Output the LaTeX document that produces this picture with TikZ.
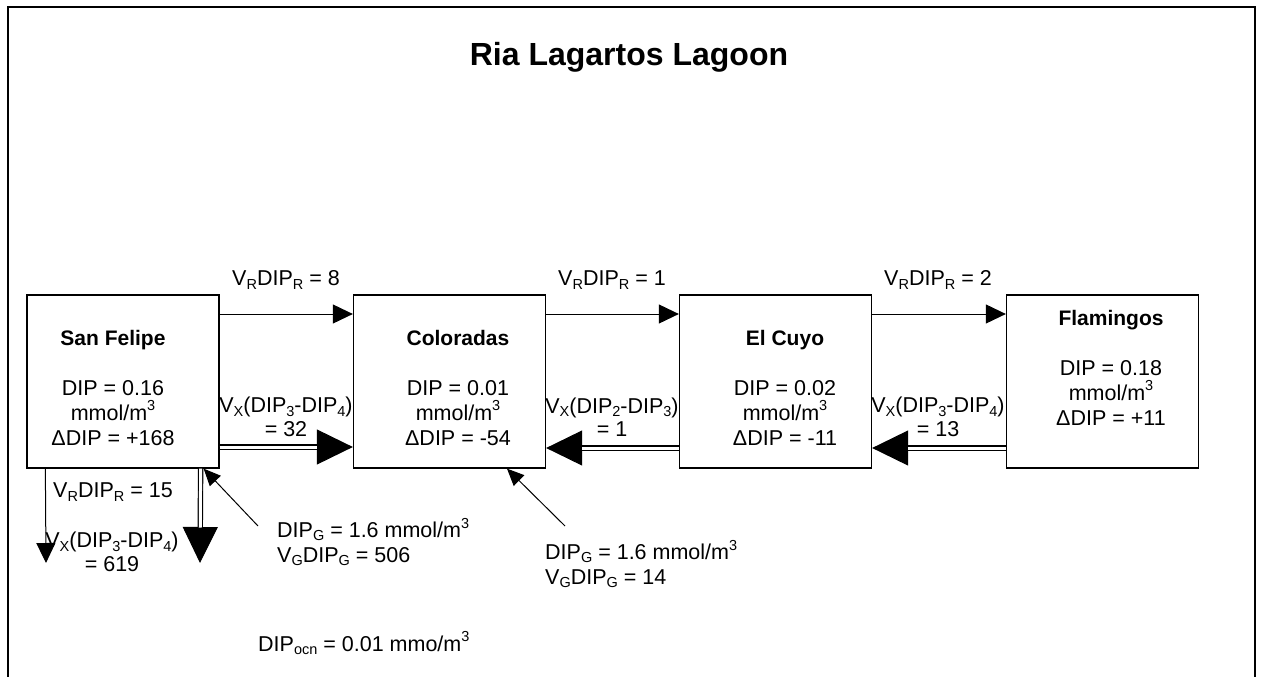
\documentclass[tikz,border=0pt]{standalone}
\usepackage{fontspec}
\setmainfont{Liberation Sans}
\usetikzlibrary{arrows.meta}

% lowered / raised indices in a smaller size
\newcommand{\lo}[1]{\raisebox{-0.15em}{\fontsize{14.5}{14.5}\selectfont #1}}
\newcommand{\hi}[1]{\raisebox{0.45em}{\fontsize{14.5}{14.5}\selectfont #1}}

\tikzset{
  basinbox/.style={draw, line width=1.3pt, minimum width=192pt, minimum height=173pt, inner sep=0pt},
  basintext/.style={font=\fontsize{21.5}{25}\selectfont, align=center, inner sep=0pt},
  flowlabel/.style={font=\fontsize{21.5}{23.5}\selectfont, align=center, inner sep=0pt},
  sidelabel/.style={font=\fontsize{21.5}{25}\selectfont, align=left, inner sep=0pt, anchor=west},
  thinarrow/.style={line width=1pt, -{Triangle[length=20pt,width=19pt]}},
  bigtip/.style={line width=1pt, -{Triangle[length=36pt,width=35pt]}},
  dline/.style={double, double distance=3pt, line width=1.2pt, shorten >=35.5pt},
  diagarrow/.style={line width=1pt, -{Triangle[length=17pt,width=15pt]}},
}

\begin{document}
\begin{tikzpicture}[x=1pt,y=-1pt]
\useasboundingbox (0,0) rectangle (1264,677);

% outer frame, open at the bottom
\draw[line width=2pt] (8,677) -- (8,7) -- (1255,7) -- (1255,677);

\node[font=\bfseries\fontsize{32}{34}\selectfont] (title) at (629,57) {Ria Lagartos Lagoon};

% basins
\node[basinbox] (sf)  at (123,381.5) {};
\node[basinbox] (col) at (449.5,381.5) {};
\node[basinbox] (cuy) at (775.5,381.5) {};
\node[basinbox] (fla) at (1102.5,381.5) {};

\node[basintext] (sft) at (113,388) {{\bfseries\fontsize{21}{25}\selectfont San Felipe}\\[25pt]DIP = 0.16\\mmol/m\hi{3}\\ΔDIP = +168};
\node[basintext] (colt) at (458,388) {{\bfseries\fontsize{21}{25}\selectfont Coloradas}\\[25pt]DIP = 0.01\\mmol/m\hi{3}\\ΔDIP = -54};
\node[basintext] (cuyt) at (785,388) {{\bfseries\fontsize{21}{25}\selectfont El Cuyo}\\[25pt]DIP = 0.02\\mmol/m\hi{3}\\ΔDIP = -11};
\node[basintext] (flat) at (1111,368) {{\bfseries\fontsize{21}{25}\selectfont Flamingos}\\[25pt]DIP = 0.18\\mmol/m\hi{3}\\ΔDIP = +11};

% residual fluxes
\draw[thinarrow] ([yshift=67.5pt]sf.east) -- ([yshift=67.5pt]col.west);
\draw[thinarrow] ([yshift=67.5pt]col.east) -- ([yshift=67.5pt]cuy.west);
\draw[thinarrow] ([yshift=67.5pt]cuy.east) -- ([yshift=67.5pt]fla.west);

\node[flowlabel] (r1) at (286,280) {V\lo{R}DIP\lo{R} = 8};
\node[flowlabel] (r2) at (612,280) {V\lo{R}DIP\lo{R} = 1};
\node[flowlabel] (r3) at (938,280) {V\lo{R}DIP\lo{R} = 2};

% exchange fluxes (double lines)
\draw[bigtip] ([yshift=-65.5pt]sf.east) -- ([yshift=-65.5pt]col.west);
\draw[dline]  ([yshift=-65.5pt]sf.east) -- ([yshift=-65.5pt]col.west);
\draw[bigtip] ([yshift=-66.5pt]cuy.west) -- ([yshift=-66.5pt]col.east);
\draw[dline]  ([yshift=-66.5pt]cuy.west) -- ([yshift=-66.5pt]col.east);
\draw[bigtip] ([yshift=-66.5pt]fla.west) -- ([yshift=-66.5pt]cuy.east);
\draw[dline]  ([yshift=-66.5pt]fla.west) -- ([yshift=-66.5pt]cuy.east);

\node[flowlabel] (x1) at (286,417) {V\lo{X}(DIP\lo{3}-DIP\lo{4})\\= 32};
\node[flowlabel] (x2) at (612,417) {V\lo{X}(DIP\lo{2}-DIP\lo{3})\\= 1};
\node[flowlabel] (x3) at (938,417) {V\lo{X}(DIP\lo{3}-DIP\lo{4})\\= 13};

% exchange with the ocean
\coordinate (ocr) at (46,563);
\coordinate (ocx) at (200,563);
\draw[thinarrow] ([xshift=19pt]sf.south west) -- (ocr);
\draw[bigtip] ([xshift=-19pt]sf.south east) -- (ocx);
\draw[dline]  ([xshift=-19pt]sf.south east) -- (ocx);

\node[flowlabel] (r0) at (113,492) {V\lo{R}DIP\lo{R} = 15};
\node[flowlabel] (x0) at (112,552) {V\lo{X}(DIP\lo{3}-DIP\lo{4})\\= 619};

% groundwater inputs
\coordinate (g1) at (258,526);
\coordinate (g2) at (565,526);
\draw[diagarrow] (g1) -- ([xshift=-16pt]sf.south east);
\draw[diagarrow] (g2) -- ([xshift=57.5pt]col.south);

\node[sidelabel] (gw1) at (277,542) {DIP\lo{G} = 1.6 mmol/m\hi{3}\\V\lo{G}DIP\lo{G} = 506};
\node[sidelabel] (gw2) at (545,564) {DIP\lo{G} = 1.6 mmol/m\hi{3}\\V\lo{G}DIP\lo{G} = 14};

\node[sidelabel] (ocn) at (258,643) {DIP\lo{ocn} = 0.01 mmo/m\hi{3}};
\end{tikzpicture}
\end{document}
